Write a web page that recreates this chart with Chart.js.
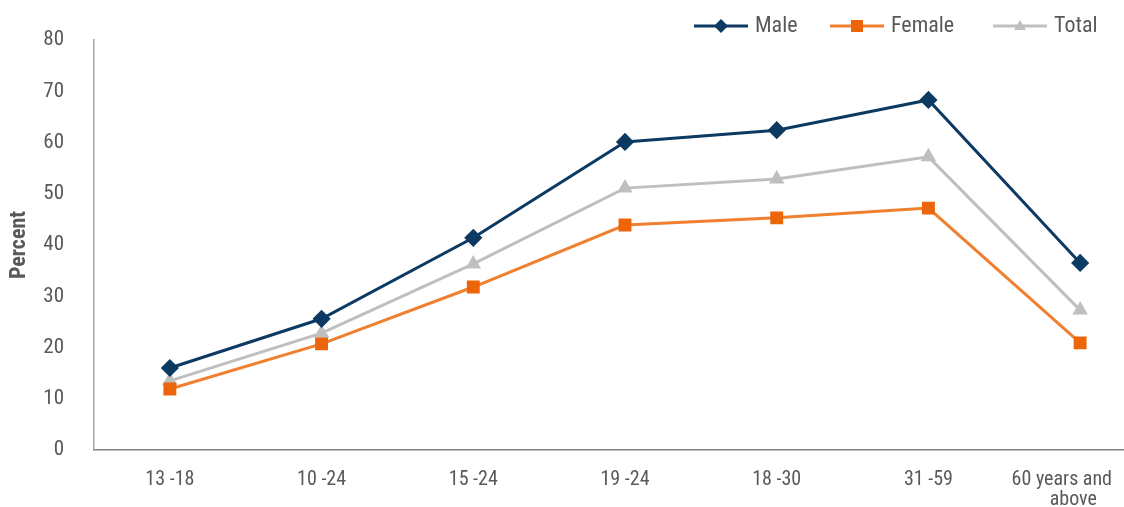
<!DOCTYPE html>
<html>
<head>
<meta charset="utf-8">
<script src="https://cdn.jsdelivr.net/npm/chart.js@4/dist/chart.umd.min.js"></script>
<style>
  html, body { margin: 0; padding: 0; background: #fff; overflow: hidden; }
  #wrap { width: 1200px; height: 507px; position: relative; }
</style>
</head>
<body>
<div id="wrap"><canvas id="c"></canvas></div>
<script>
// Age groups and percentages by sex
// (trailing spaces keep the last, wrapped label inside the visible width)
const ageGroups = ['13 -18', '10 -24', '15 -24', '19 -24', '18 -30', '31 -59', ['60 years and        ', 'above   ']];
const male   = [16.0, 25.6, 41.4, 60.1, 62.4, 68.3, 36.5];
const female = [11.9, 20.7, 31.8, 43.9, 45.3, 47.2, 20.9];
const total  = [13.5, 22.8, 36.3, 51.1, 52.9, 57.2, 27.3];
const yTicks = [0, 10, 20, 30, 40, 50, 60, 70, 80];

const FONT = '"Roboto Condensed", "Open Sans Condensed", "DejaVu Sans Condensed", sans-serif';
const TEXT = '#595959';

// Legend drawn at the top right
const topLegend = {
  id: 'topLegend',
  afterDraw(chart) {
    const ctx = chart.ctx;
    const items = [
      { x: 694, label: 'Male' },
      { x: 830, label: 'Female' },
      { x: 993, label: 'Total' }
    ];
    const y = 26;
    ctx.save();
    chart.data.datasets.forEach((ds, i) => {
      const it = items[i];
      ctx.strokeStyle = ds.borderColor;
      ctx.lineWidth = 3;
      ctx.beginPath();
      ctx.moveTo(it.x, y);
      ctx.lineTo(it.x + 54, y);
      ctx.stroke();
      const cx = it.x + 27;
      ctx.fillStyle = ds.pointBackgroundColor;
      ctx.beginPath();
      if (ds.pointStyle === 'rectRot') {
        ctx.moveTo(cx, y - 7); ctx.lineTo(cx + 7, y); ctx.lineTo(cx, y + 7); ctx.lineTo(cx - 7, y);
      } else if (ds.pointStyle === 'rect') {
        ctx.rect(cx - 6, y - 6, 12, 12);
      } else {
        ctx.moveTo(cx, y - 6); ctx.lineTo(cx + 6, y + 4); ctx.lineTo(cx - 6, y + 4);
      }
      ctx.closePath();
      ctx.fill();
      ctx.fillStyle = TEXT;
      ctx.font = '22px ' + FONT;
      ctx.textBaseline = 'middle';
      ctx.textAlign = 'left';
      ctx.fillText(it.label, it.x + 61, y);
    });
    ctx.restore();
  }
};

new Chart(document.getElementById('c'), {
  type: 'line',
  data: {
    labels: ageGroups,
    datasets: [
      {
        label: 'Male', data: male,
        borderColor: '#0c3a62', backgroundColor: '#0c3a62',
        pointBackgroundColor: '#0c3a62', pointBorderColor: '#0c3a62',
        pointStyle: 'rectRot', pointRadius: 7, borderWidth: 3, tension: 0
      },
      {
        label: 'Female', data: female,
        borderColor: '#f0802f', backgroundColor: '#ec650a',
        pointBackgroundColor: '#ec650a', pointBorderColor: '#ec650a',
        pointStyle: 'rect', pointRadius: 7, borderWidth: 3, tension: 0
      },
      {
        label: 'Total', data: total,
        borderColor: '#bfbfbf', backgroundColor: '#bfbfbf',
        pointBackgroundColor: '#bfbfbf', pointBorderColor: '#bfbfbf',
        pointStyle: 'triangle', pointRadius: 6, borderWidth: 3, tension: 0
      }
    ]
  },
  options: {
    responsive: true,
    maintainAspectRatio: false,
    animation: false,
    layout: { padding: { top: 40, right: 44, left: 0, bottom: 0 } },
    plugins: { legend: { display: false }, tooltip: { enabled: false } },
    scales: {
      x: {
        offset: true,
        grid: { display: false, drawTicks: false },
        border: { color: '#7f7f7f', width: 1.5 },
        ticks: { color: TEXT, font: { family: FONT, size: 20, lineHeight: 1.0 }, padding: 20, maxRotation: 0, autoSkip: false },
        afterFit(s) { s.height = 57; }
      },
      y: {
        min: 0, max: 80,
        afterBuildTicks(s) { s.ticks = yTicks.map(v => ({ value: v })); },
        grid: { display: false, drawTicks: false },
        border: { color: '#a6a6a6', width: 1.5 },
        ticks: { color: TEXT, font: { family: FONT, size: 21, lineHeight: 0.95 }, padding: 30 },
        title: { display: true, text: 'Percent', color: TEXT, font: { family: FONT, size: 22, weight: 'bold' }, padding: { top: 6, bottom: 0 } },
        afterFit(s) { s.width = 94; }
      }
    }
  },
  plugins: [topLegend]
});
</script>
</body>
</html>
